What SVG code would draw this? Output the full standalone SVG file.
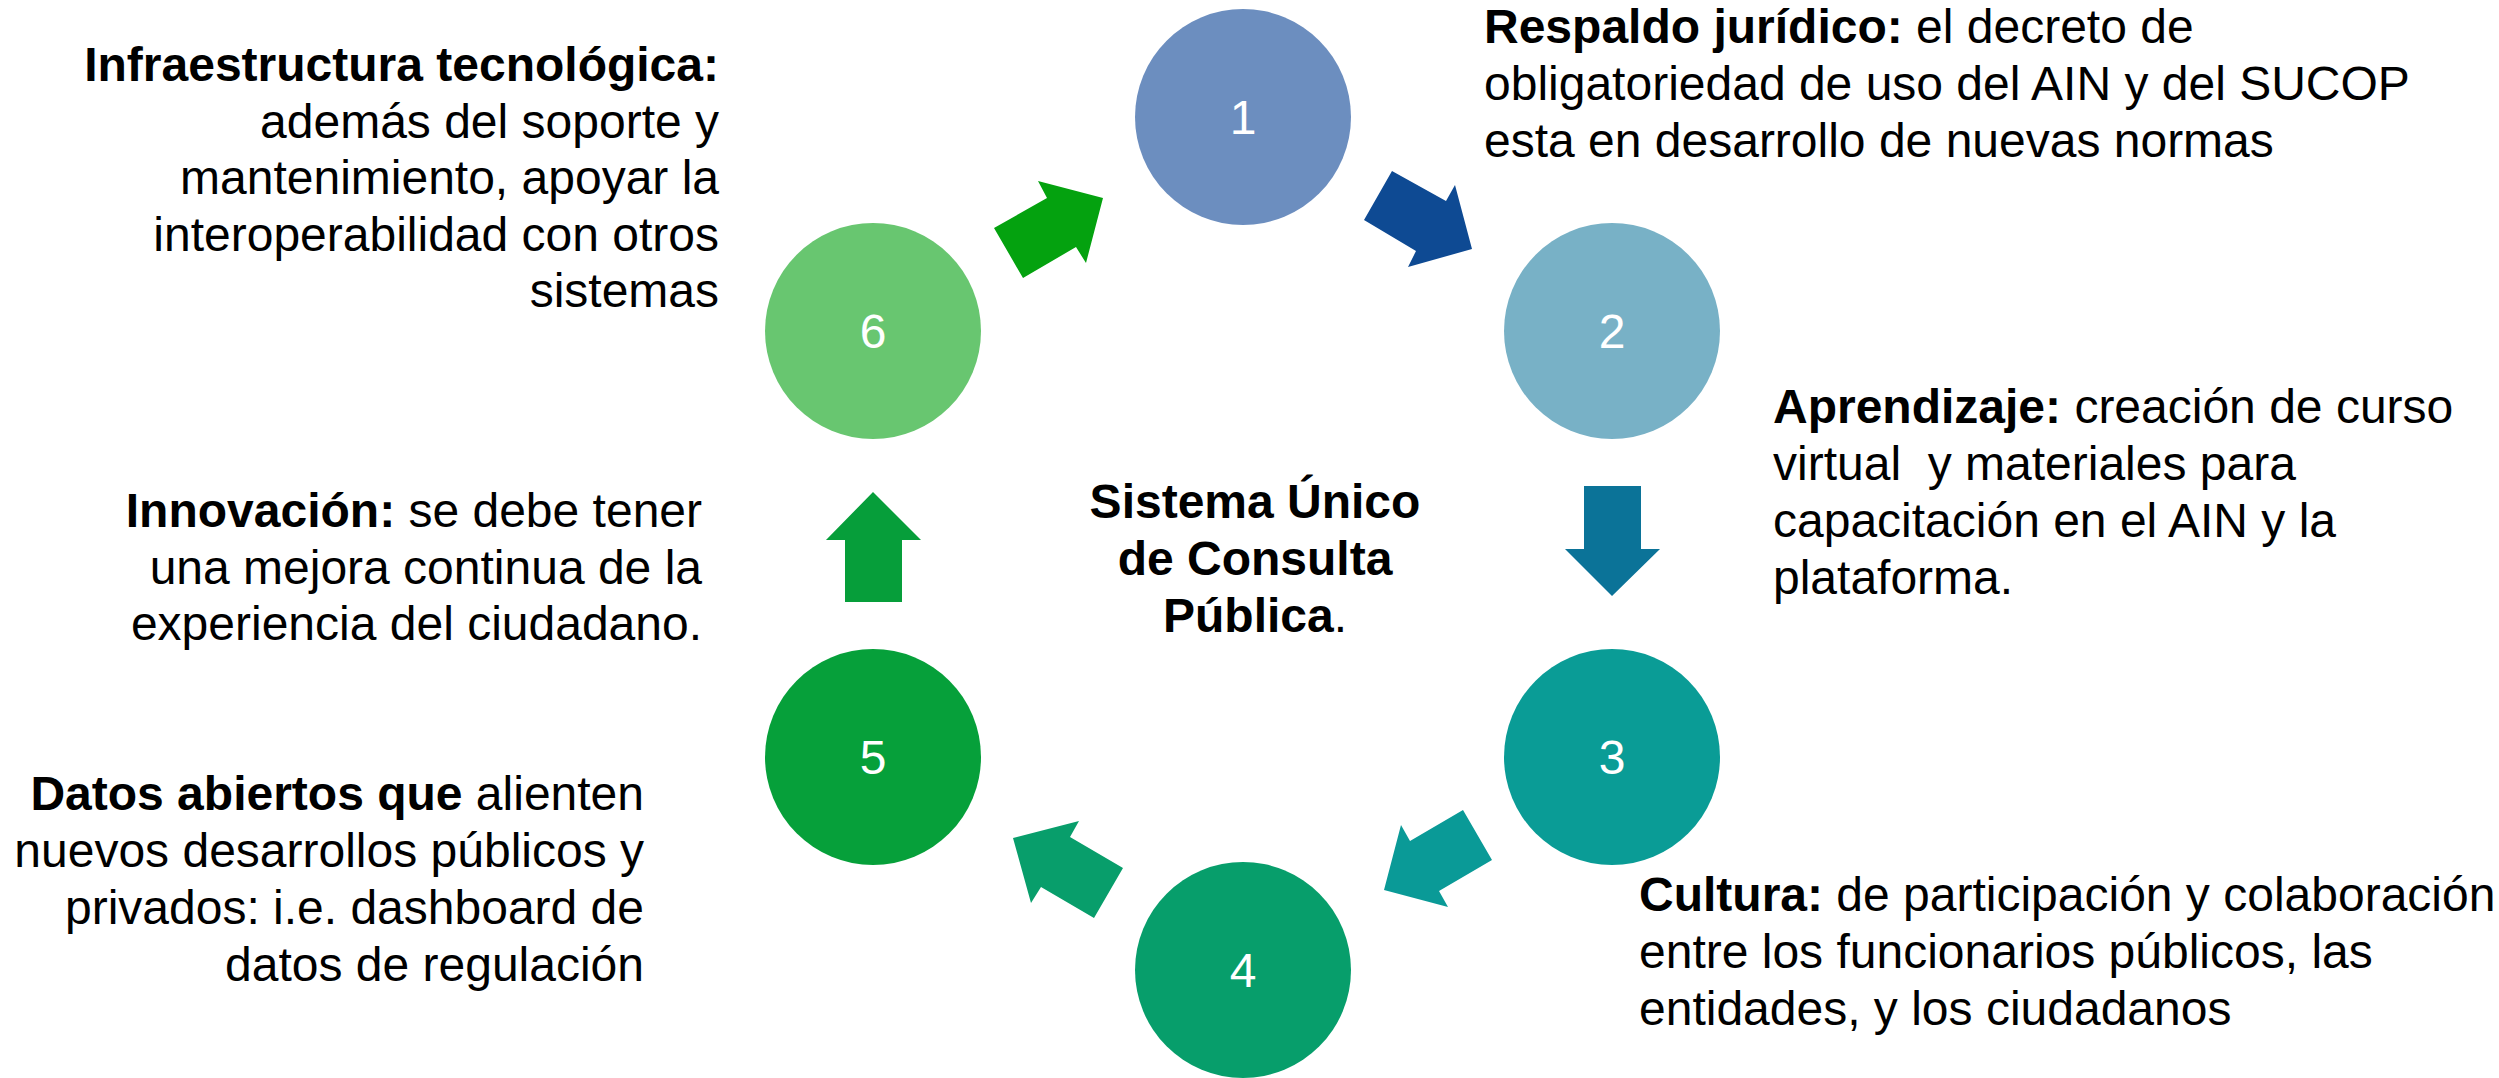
<svg xmlns="http://www.w3.org/2000/svg" width="2499" height="1078" viewBox="0 0 2499 1078">
<style>
  text { font-family: "Liberation Sans", Arial, sans-serif; font-size: 48px; fill: #000; }
  .b { font-weight: bold; }
  .num { fill: #fff; text-anchor: middle; }
  .end { text-anchor: end; }
  .mid { text-anchor: middle; }
</style>
<rect width="2499" height="1078" fill="#fff"/>
<g id="connectors">
  <polygon id="a12" fill="#0E4A93" points="1392,171 1446,201 1455,185 1472,249 1408,267 1416,251 1364,220"/>
  <polygon id="a23" fill="#0B7398" points="1584,486 1641,486 1641,549 1660,549 1612,596 1565,549 1584,549"/>
  <polygon id="a34" fill="#0A9A97" points="1463,810 1492,860 1439,891 1448,907 1384,890 1401,825 1410,841"/>
  <polygon id="a45" fill="#089E6B" points="1079,821 1070,837 1123,868 1094,918 1041,887 1031,903 1013,838"/>
  <polygon id="a56" fill="#069E3A" points="873,492 921,540 902,540 902,602 845,602 845,540 826,540"/>
  <polygon id="a61" fill="#04A20F" points="994,228 1047,198 1038,181 1103,198 1086,263 1076,247 1023,278"/>
</g>
<g id="node1">
  <circle cx="1243" cy="117" r="108" fill="#6C8EBF"/>
  <text class="num" x="1243" y="134">1</text>
</g>
<g id="node2">
  <circle cx="1612" cy="331" r="108" fill="#78B1C6"/>
  <text class="num" x="1612" y="348">2</text>
</g>
<g id="node3">
  <circle cx="1612" cy="757" r="108" fill="#0A9C96"/>
  <text class="num" x="1612" y="774">3</text>
</g>
<g id="node4">
  <circle cx="1243" cy="970" r="108" fill="#079E6B"/>
  <text class="num" x="1243" y="987">4</text>
</g>
<g id="node5">
  <circle cx="873" cy="757" r="108" fill="#06A03A"/>
  <text class="num" x="873" y="774">5</text>
</g>
<g id="node6">
  <circle cx="873" cy="331" r="108" fill="#68C670"/>
  <text class="num" x="873" y="348">6</text>
</g>
<g id="center-label">
  <text class="mid b" x="1255" y="518">Sistema Único</text>
  <text class="mid b" x="1255" y="575">de Consulta</text>
  <text class="mid" x="1255" y="632"><tspan class="b">Pública</tspan>.</text>
</g>
<g id="label1">
  <text x="1484" y="43"><tspan class="b">Respaldo jurídico:</tspan> el decreto de</text>
  <text x="1484" y="100">obligatoriedad de uso del AIN y del SUCOP</text>
  <text x="1484" y="157">esta en desarrollo de nuevas normas</text>
</g>
<g id="label2">
  <text x="1773" y="423"><tspan class="b">Aprendizaje:</tspan> creación de curso</text>
  <text x="1773" y="480">virtual&#160; y materiales para</text>
  <text x="1773" y="537">capacitación en el AIN y la</text>
  <text x="1773" y="594">plataforma.</text>
</g>
<g id="label3">
  <text x="1639" y="911"><tspan class="b">Cultura:</tspan> de participación y colaboración</text>
  <text x="1639" y="968">entre los funcionarios públicos, las</text>
  <text x="1639" y="1025">entidades, y los ciudadanos</text>
</g>
<g id="label5">
  <text class="end" x="644" y="810"><tspan class="b">Datos abiertos que</tspan> alienten</text>
  <text class="end" x="644" y="867">nuevos desarrollos públicos y</text>
  <text class="end" x="644" y="924">privados: i.e. dashboard de</text>
  <text class="end" x="644" y="981">datos de regulación</text>
</g>
<g id="label6b">
  <text class="end" x="702" y="527"><tspan class="b">Innovación:</tspan> se debe tener</text>
  <text class="end" x="702" y="584">una mejora continua de la</text>
  <text class="end" x="702" y="640">experiencia del ciudadano.</text>
</g>
<g id="label6">
  <text class="end b" x="719" y="81">Infraestructura tecnológica:</text>
  <text class="end" x="719" y="138">además del soporte y</text>
  <text class="end" x="719" y="194">mantenimiento, apoyar la</text>
  <text class="end" x="719" y="251">interoperabilidad con otros</text>
  <text class="end" x="719" y="307">sistemas</text>
</g>
</svg>
